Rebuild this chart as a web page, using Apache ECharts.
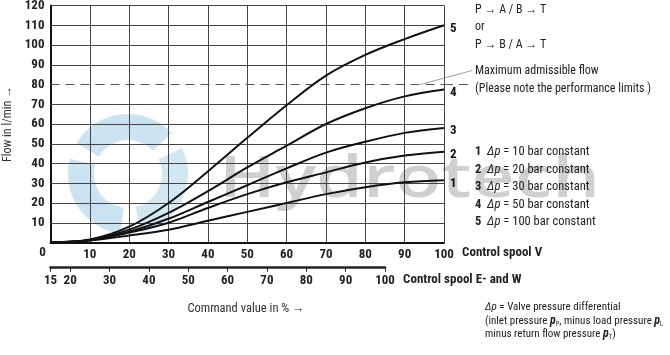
<!DOCTYPE html>
<html><head><meta charset="utf-8">
<script src="https://cdn.jsdelivr.net/npm/echarts@6/dist/echarts.min.js"></script>
<style>html,body{margin:0;padding:0;background:#fff}#c{width:670px;height:355px}</style>
</head><body><div id="c"></div>
<script>
// ---- data ----
const commandV = [0, 10, 20, 30, 40, 50, 60, 70, 80, 90, 100];
const flow1 = [0, 1.0, 3.5, 6.5, 11, 15.5, 20, 24.5, 28, 30.5, 31.5];
const flow2 = [0, 1.1, 5.0, 10, 17.5, 24.5, 30.5, 35.5, 40.5, 44, 46];
const flow3 = [0, 1.2, 5.5, 12, 20.5, 29, 37.5, 45.5, 51, 55.5, 58];
const flow4 = [0, 1.3, 6.5, 15, 26, 38, 49, 60, 68, 74, 77.5];
const flow5 = [0, 1.5, 8.0, 20, 36, 53, 69.5, 84.5, 95, 103, 110];
const curveNames = ['1', '2', '3', '4', '5'];
const deltaP = ['10', '20', '30', '50', '100'];
const spoolEWTicks = [15, 20, 30, 40, 50, 60, 70, 80, 90, 100];
const maxAdmissibleFlow = 80;
const gridLineValues = [10, 20, 30, 40, 50, 60, 70, 90, 100, 110, 120];

const FONT = "'Roboto Condensed', Roboto, 'Liberation Sans', sans-serif";
const chart = echarts.init(document.getElementById('c'), null, {renderer: 'canvas'});
const flows = [flow1, flow2, flow3, flow4, flow5];

const series = flows.map((f, k) => ({
  type: 'line', xAxisIndex: 0, yAxisIndex: 0, smooth: 0.35, symbol: 'none', z: 5,
  data: commandV.map((x, i) => [x, f[i]]),
  lineStyle: {color: '#111', width: 2},
  endLabel: {show: true, formatter: curveNames[k], fontFamily: FONT, fontWeight: 'bold', fontSize: 13, color: '#111', distance: 6, offset: [0, 3]},
  silent: true
}));
series[0].markLine = {
  silent: true, symbol: 'none', label: {show: false}, animation: false,
  data: gridLineValues.map(v => ({yAxis: v, lineStyle: {color: '#444', width: 1, type: 'solid'}}))
    .concat([{yAxis: maxAdmissibleFlow, lineStyle: {color: '#555', width: 1, type: [9, 6]}}])
};

const option = {
  animation: false,
  backgroundColor: '#fff',
  grid: [
    {left: 50.5, right: 226, top: 5.5, bottom: 112.5, containLabel: false, outerBoundsMode: 'none'},
    {left: 50.5, width: 334.5, top: 250, height: 17.7, containLabel: false, outerBoundsMode: 'none'}
  ],
  xAxis: [
    {type: 'value', gridIndex: 0, min: 0, max: 100, interval: 10,
     axisLine: {show: true, onZero: false, lineStyle: {color: '#111', width: 2}},
     axisTick: {show: false},
     splitLine: {show: true, lineStyle: {color: '#444', width: 1}},
     axisLabel: {margin: 6, fontFamily: FONT, fontWeight: 'bold', fontSize: 13, color: '#222',
       formatter: v => v === 0 ? '' : String(v)}},
    {type: 'value', gridIndex: 1, min: 15, max: 100, position: 'bottom',
     axisLine: {show: true, onZero: false, lineStyle: {color: '#222', width: 2.5}},
     axisTick: {show: true, length: 4, customValues: spoolEWTicks, lineStyle: {color: '#222', width: 1}},
     splitLine: {show: false},
     axisLabel: {margin: 7, customValues: spoolEWTicks, fontFamily: FONT, fontWeight: 'bold', fontSize: 13, color: '#222'}}
  ],
  yAxis: [
    {type: 'value', gridIndex: 0, min: 0, max: 120, interval: 10,
     name: 'Flow in l/min →', nameLocation: 'middle', nameGap: 35, nameRotate: 90,
     nameTextStyle: {fontFamily: FONT, fontSize: 12, color: '#333'},
     axisLine: {show: true, onZero: false, lineStyle: {color: '#111', width: 2}},
     axisTick: {show: false},
     splitLine: {show: false},
     axisLabel: {margin: 6, fontFamily: FONT, fontWeight: 'bold', fontSize: 13, color: '#222',
       formatter: v => v === 0 ? '' : String(v)}},
    {type: 'value', gridIndex: 1, min: 0, max: 1, show: false}
  ],
  series: series
};
chart.setOption(option);

// ---- annotations positioned from the axes ----
const px = (x, y) => chart.convertToPixel({xAxisIndex: 0, yAxisIndex: 0}, [x, y]);
const pEnd = px(100, maxAdmissibleFlow);
const pLead = px(94, maxAdmissibleFlow);
const pZero = px(0, 0);
const T = (text, x, y, extra, el) => Object.assign({type: 'text', x: x, y: y, silent: true, z: 10,
  style: Object.assign({text: text, fontFamily: FONT, fontSize: 12, fill: '#222', verticalAlign: 'middle', align: 'left'}, extra || {})}, el || {});

const legendRich = {
  b: {fontFamily: FONT, fontWeight: 'bold', fontSize: 12.5, fill: '#222'},
  i: {fontFamily: FONT, fontStyle: 'italic', fontSize: 12.5, fill: '#222'}
};
const noteRich = {
  i: {fontFamily: FONT, fontStyle: 'italic', fontSize: 11, fill: '#222'},
  p: {fontFamily: FONT, fontStyle: 'italic', fontWeight: 'bold', fontSize: 12, fill: '#222'},
  s: {fontFamily: FONT, fontSize: 6.5, fill: '#222', padding: [6, 0, 0, 0]}
};
const legendY = [152, 169.5, 187, 204.5, 222];
const graphics = [
  // watermark
  {type: 'sector', silent: true, z: -1, shape: {cx: 128, cy: 174, r0: 34, r: 60, startAngle: -2.6, endAngle: -0.75}, style: {fill: 'rgba(110,175,215,0.35)'}},
  {type: 'sector', silent: true, z: -1, shape: {cx: 128, cy: 174, r0: 34, r: 60, startAngle: -0.45, endAngle: 1.35}, style: {fill: 'rgba(110,175,215,0.30)'}},
  {type: 'sector', silent: true, z: -1, shape: {cx: 128, cy: 174, r0: 34, r: 60, startAngle: 1.7, endAngle: 3.4}, style: {fill: 'rgba(110,175,215,0.35)'}},
  T('Hydrotech', 0, 0, {fontFamily: "'Open Sans', 'Liberation Sans', sans-serif", fontWeight: 600, fontSize: 58, fill: 'rgba(150,150,150,0.45)'},
    {x: 219, y: 180, scaleX: 1.3, z: -1}),
  // max flow dashed extension + leader
  {type: 'line', silent: true, z: 6, shape: {x1: pEnd[0], y1: pEnd[1], x2: pEnd[0] + 27, y2: pEnd[1]}, style: {stroke: '#555', lineWidth: 1, lineDash: [9, 6]}},
  {type: 'line', silent: true, z: 6, shape: {x1: pLead[0], y1: pLead[1], x2: 472, y2: 70.5}, style: {stroke: '#888', lineWidth: 0.8}},
  T('0', pZero[0] - 8, 253, {fontWeight: 'bold', fontSize: 13, align: 'center'}),
  T('P → A / B → T', 475, 10),
  T('or', 475, 27),
  T('P → B / A → T', 475, 45),
  T('Maximum admissible flow', 475, 71),
  T('(Please note the performance limits )', 475, 89),
  T('Control spool V', 462, 253, {fontWeight: 'bold', fontSize: 13}),
  T('Control spool E- and W', 403, 280, {fontWeight: 'bold', fontSize: 13}),
  T('Command value in % →', 246, 309, {align: 'center', fontSize: 12.5, fill: '#333'}),
  T('{i|Δp} = Valve pressure differential', 485, 307, {fontSize: 11, rich: noteRich}),
  T('(inlet pressure {p|p}{s|P}, minus load pressure {p|p}{s|L}', 485, 321, {fontSize: 11, rich: noteRich}),
  T('minus return flow pressure {p|p}{s|T})', 485, 334, {fontSize: 11, rich: noteRich})
];
curveNames.forEach((n, k) => {
  graphics.push(T('{b|' + n + '}  {i|Δp} = ' + deltaP[k] + ' bar constant', 475, legendY[k], {fontSize: 12.5, rich: legendRich}));
});
chart.setOption({graphic: graphics});
</script></body></html>
